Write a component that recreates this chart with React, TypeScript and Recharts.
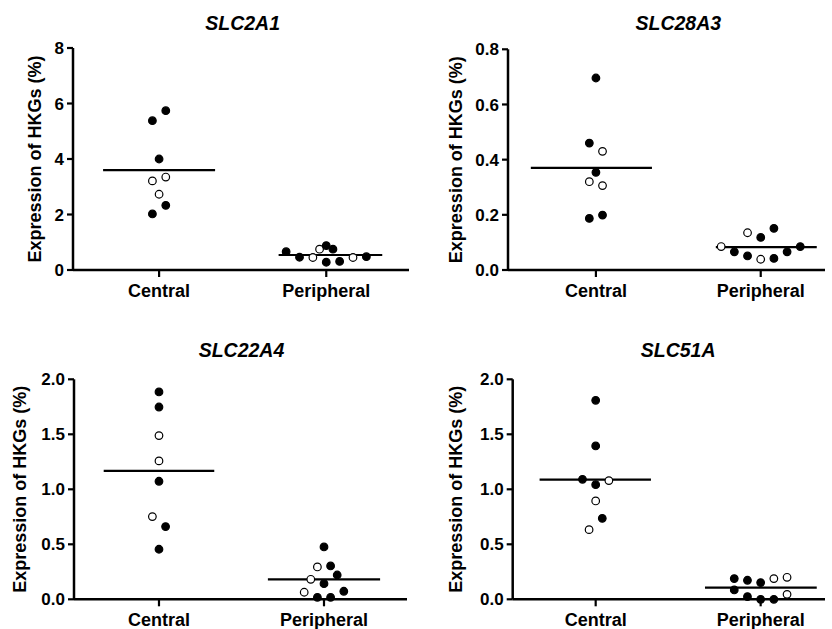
import React from 'react';
import { ScatterChart, Scatter, XAxis, YAxis, ReferenceLine, Customized } from 'recharts';

// ---------- data ----------
const groups = ['Central', 'Peripheral'];
const groupPositions = [1, 3];
const genes = ['SLC2A1', 'SLC28A3', 'SLC22A4', 'SLC51A'];
const yLabel = 'Expression of HKGs (%)';

// v = value, s = jitter column, o = open marker (1) / filled (0)
const slc2a1Central = [
  { v: 5.74, s: 1, o: 0 }, { v: 5.38, s: -1, o: 0 }, { v: 4.0, s: 0, o: 0 }, { v: 3.35, s: 1, o: 1 },
  { v: 3.21, s: -1, o: 1 }, { v: 2.73, s: 0, o: 1 }, { v: 2.33, s: 1, o: 0 }, { v: 2.02, s: -1, o: 0 },
];
const slc2a1Peripheral = [
  { v: 0.66, s: -6, o: 0 }, { v: 0.46, s: -4, o: 0 }, { v: 0.45, s: -2, o: 1 }, { v: 0.75, s: -1, o: 1 },
  { v: 0.88, s: 0, o: 0 }, { v: 0.75, s: 1, o: 0 }, { v: 0.28, s: 0, o: 0 }, { v: 0.31, s: 2, o: 0 },
  { v: 0.45, s: 4, o: 1 }, { v: 0.48, s: 6, o: 0 },
];
const slc28a3Central = [
  { v: 0.696, s: 0, o: 0 }, { v: 0.46, s: -1, o: 0 }, { v: 0.43, s: 1, o: 1 }, { v: 0.354, s: 0, o: 0 },
  { v: 0.32, s: -1, o: 1 }, { v: 0.306, s: 1, o: 1 }, { v: 0.199, s: 1, o: 0 }, { v: 0.187, s: -1, o: 0 },
];
const slc28a3Peripheral = [
  { v: 0.085, s: -6, o: 1 }, { v: 0.066, s: -4, o: 0 }, { v: 0.135, s: -2, o: 1 }, { v: 0.051, s: -2, o: 0 },
  { v: 0.118, s: 0, o: 0 }, { v: 0.039, s: 0, o: 1 }, { v: 0.151, s: 2, o: 0 }, { v: 0.042, s: 2, o: 0 },
  { v: 0.066, s: 4, o: 0 }, { v: 0.085, s: 6, o: 0 },
];
const slc22a4Central = [
  { v: 1.885, s: 0, o: 0 }, { v: 1.748, s: 0, o: 0 }, { v: 1.488, s: 0, o: 1 }, { v: 1.258, s: 0, o: 1 },
  { v: 1.073, s: 0, o: 0 }, { v: 0.752, s: -1, o: 1 }, { v: 0.661, s: 1, o: 0 }, { v: 0.455, s: 0, o: 0 },
];
const slc22a4Peripheral = [
  { v: 0.476, s: 0, o: 0 }, { v: 0.294, s: -1, o: 1 }, { v: 0.303, s: 1, o: 0 }, { v: 0.182, s: -2, o: 1 },
  { v: 0.221, s: 2, o: 0 }, { v: 0.142, s: 0, o: 0 }, { v: 0.064, s: -3, o: 1 }, { v: 0.073, s: 3, o: 0 },
  { v: 0.018, s: -1, o: 0 }, { v: 0.018, s: 1, o: 0 },
];
const slc51aCentral = [
  { v: 1.809, s: 0, o: 0 }, { v: 1.394, s: 0, o: 0 }, { v: 1.091, s: -2, o: 0 }, { v: 1.079, s: 2, o: 1 },
  { v: 1.042, s: 0, o: 0 }, { v: 0.894, s: 0, o: 1 }, { v: 0.736, s: 1, o: 0 }, { v: 0.633, s: -1, o: 1 },
];
const slc51aPeripheral = [
  { v: 0.188, s: -4, o: 0 }, { v: 0.173, s: -2, o: 0 }, { v: 0.152, s: 0, o: 0 }, { v: 0.188, s: 2, o: 1 },
  { v: 0.2, s: 4, o: 1 }, { v: 0.085, s: -4, o: 0 }, { v: 0.024, s: -2, o: 0 }, { v: 0.0, s: 0, o: 0 },
  { v: 0.0, s: 2, o: 0 }, { v: 0.045, s: 4, o: 1 },
];

const centralMeans = [3.6, 0.37, 1.167, 1.088];
const peripheralMeans = [0.54, 0.083, 0.182, 0.106];

const yTicks = [
  [0, 2, 4, 6, 8],
  [0, 0.2, 0.4, 0.6, 0.8],
  [0, 0.5, 1.0, 1.5, 2.0],
  [0, 0.5, 1.0, 1.5, 2.0],
];
const yDecimals = [0, 1, 1, 1];

const panelData = [
  [slc2a1Central, slc2a1Peripheral],
  [slc28a3Central, slc28a3Peripheral],
  [slc22a4Central, slc22a4Peripheral],
  [slc51aCentral, slc51aPeripheral],
];

// ---------- layout / style ----------
const FONT = '"Liberation Sans", Arial, Helvetica, sans-serif';
const SLOT = 0.08;
const Y_AXIS_W = 60;
const X_AXIS_H = 20;

const layouts = [
  { left: 0, top: 0, w: 416, h: 310, plotLeft: 73, plotRight: 409, plotTop: 48, plotBottom: 270, titleY: 30, labelX: 41.3, xMin: -0.03, xMax: 3.99 },
  { left: 416, top: 0, w: 416, h: 310, plotLeft: 92, plotRight: 409, plotTop: 49.3, plotBottom: 270, titleY: 30, labelX: 46.3, xMin: -0.067, xMax: 3.78 },
  { left: 0, top: 310, w: 416, h: 319, plotLeft: 74, plotRight: 407, plotTop: 69.3, plotBottom: 289.3, titleY: 46.7, labelX: 26.3, xMin: -0.03, xMax: 4.006 },
  { left: 416, top: 310, w: 416, h: 319, plotLeft: 96.7, plotRight: 409, plotTop: 69.3, plotBottom: 289.3, titleY: 46.7, labelX: 46.3, xMin: -0.006, xMax: 3.78 },
];
// mean-line extents around each group centre, in x units
const lineSpans = [
  [[-0.67, 0.67], [-0.57, 0.67]],
  [[-0.79, 0.68], [-0.545, 0.68]],
  [[-0.67, 0.67], [-0.68, 0.68]],
  [[-0.68, 0.67], [-0.675, 0.68]],
];

const Dot = (props: any) => {
  const { cx, cy, payload } = props;
  if (cx == null || cy == null) return null;
  return (
    <circle
      cx={cx}
      cy={cy}
      r={3.8}
      fill={payload.o ? '#ffffff' : '#000000'}
      stroke="#000000"
      strokeWidth={1.2}
    />
  );
};

function Panel({ idx }: { idx: number }) {
  const L = layouts[idx];
  const points = panelData[idx].flatMap((arr, g) =>
    arr.map((p) => ({ x: groupPositions[g] + p.s * SLOT, y: p.v, o: p.o }))
  );
  const means = [centralMeans[idx], peripheralMeans[idx]];
  const ticks = yTicks[idx];
  const dec = yDecimals[idx];
  const ppu = (L.plotRight - L.plotLeft) / (L.xMax - L.xMin);
  const titleX = L.plotLeft + (2 - L.xMin) * ppu;
  const labelY = (L.plotTop + L.plotBottom) / 2;

  const margin = {
    top: L.plotTop,
    left: L.plotLeft - Y_AXIS_W,
    right: L.w - L.plotRight,
    bottom: L.h - L.plotBottom - X_AXIS_H,
  };

  const TitleAndLabel = () => (
    <g>
      <text
        x={titleX}
        y={L.titleY}
        textAnchor="middle"
        fontFamily={FONT}
        fontWeight="bold"
        fontStyle="italic"
        fontSize={19.5}
        fill="#000"
      >
        {genes[idx]}
      </text>
      <text
        x={L.labelX}
        y={labelY}
        transform={`rotate(-90 ${L.labelX} ${labelY})`}
        textAnchor="middle"
        fontFamily={FONT}
        fontWeight="bold"
        fontSize={18}
        fill="#000"
      >
        {yLabel}
      </text>
    </g>
  );

  return (
    <div style={{ position: 'absolute', left: L.left, top: L.top, width: L.w, height: L.h }}>
      <ScatterChart width={L.w} height={L.h} margin={margin}>
        <XAxis
          type="number"
          dataKey="x"
          domain={[L.xMin, L.xMax]}
          allowDataOverflow
          ticks={groupPositions}
          tickFormatter={(v: number) => groups[groupPositions.indexOf(v)] ?? ''}
          height={X_AXIS_H}
          axisLine={{ stroke: '#000', strokeWidth: 2.5 }}
          tickLine={{ stroke: '#000', strokeWidth: 2.2 }}
          tickSize={7}
          tickMargin={7}
          tick={{ fill: '#000', fontSize: 18, fontWeight: 'bold', fontFamily: FONT }}
          interval={0}
        />
        <YAxis
          type="number"
          dataKey="y"
          domain={[0, ticks[ticks.length - 1]]}
          ticks={ticks}
          tickFormatter={(v: number) => v.toFixed(dec)}
          width={Y_AXIS_W}
          axisLine={{ stroke: '#000', strokeWidth: 2.5 }}
          tickLine={{ stroke: '#000', strokeWidth: 2.2 }}
          tickSize={6}
          tickMargin={3}
          tick={{ fill: '#000', fontSize: 17, fontWeight: 'bold', fontFamily: FONT }}
          interval={0}
        />
        {means.map((m, g) => (
          <ReferenceLine
            key={'m' + g}
            segment={[
              { x: groupPositions[g] + lineSpans[idx][g][0], y: m },
              { x: groupPositions[g] + lineSpans[idx][g][1], y: m },
            ]}
            stroke="#000"
            strokeWidth={2.2}
            ifOverflow="visible"
          />
        ))}
        <Scatter data={points} shape={Dot} isAnimationActive={false} />
        <Customized component={TitleAndLabel} />
      </ScatterChart>
    </div>
  );
}

export default function App() {
  return (
    <div
      style={{
        position: 'absolute',
        left: 0,
        top: 0,
        width: 832,
        height: 629,
        background: '#ffffff',
        overflow: 'hidden',
      }}
    >
      {[0, 1, 2, 3].map((i) => (
        <Panel key={i} idx={i} />
      ))}
    </div>
  );
}
